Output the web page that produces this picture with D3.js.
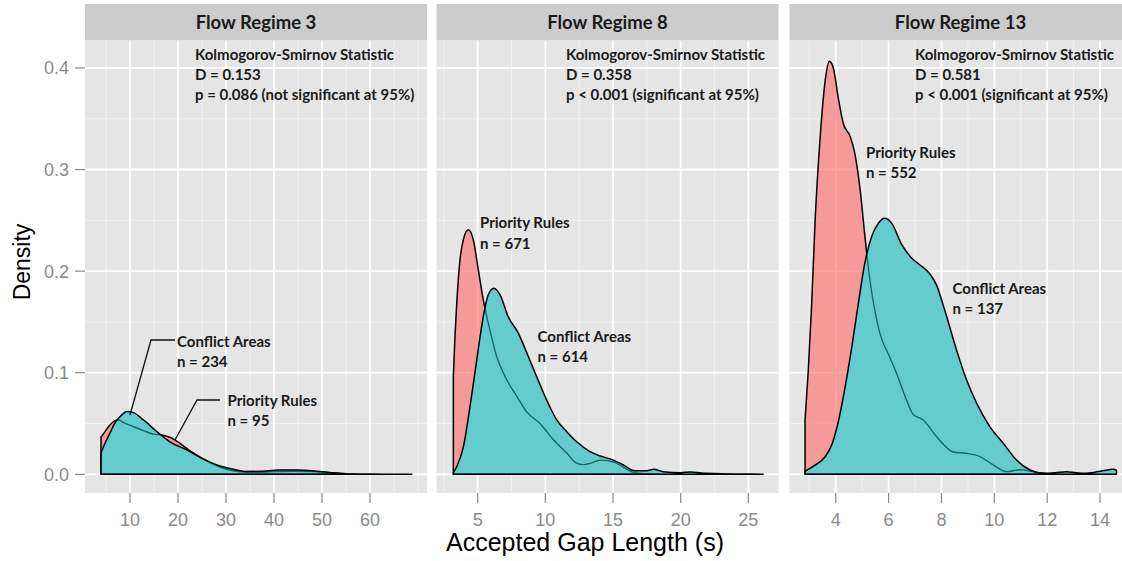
<!DOCTYPE html>
<html><head><meta charset="utf-8">
<script src="https://cdn.jsdelivr.net/npm/d3@7"></script>
<style>body{margin:0;background:#fff} svg{display:block}</style>
</head><body><svg id="c" width="1122" height="561"></svg>
<script>
// ---------- data ----------
const panelTitles = ["Flow Regime 3", "Flow Regime 8", "Flow Regime 13"];
const xTickValues = [[10,20,30,40,50,60],[5,10,15,20,25],[4,6,8,10,12,14]];
const xMinorValues = [[5,15,25,35,45,55,65,70],[2.5,7.5,12.5,17.5,22.5],[3,5,7,9,11,13,15]];
const xDomains = [[0.625,71.875],[1.955,27.23],[2.252,15.19]];
const yTickValues = [0, 0.1, 0.2, 0.3, 0.4];
const yMinorValues = [0.05, 0.15, 0.25, 0.35];
const yDomain = [-0.0184, 0.427];
const ksD = ["D = 0.153", "D = 0.358", "D = 0.581"];
const ksP = ["p = 0.086 (not significant at 95%)", "p < 0.001 (significant at 95%)", "p < 0.001 (significant at 95%)"];
const nPriority = [95, 671, 552];
const nConflict = [234, 614, 137];

// [gap (s), density]
const fr3Priority = [[3.96,0.0365],[4.79,0.042],[5.8,0.0486],[6.9,0.0528],[7.6,0.0535],[8.6,0.0512],[10.7,0.047],[12.8,0.043],[14.9,0.0395],[16.6,0.0388],[18.3,0.0365],[20.4,0.0305],[22.5,0.023],[24.6,0.017],[26.5,0.012],[28.5,0.0075],[30.5,0.0045],[33,0.0025],[36,0.002],[40,0.0026],[44,0.003],[48,0.0026],[52,0.0013],[55,0.0004],[57,0.0]];
const fr3Conflict = [[3.96,0.021],[4.79,0.0305],[5.8,0.0404],[6.9,0.0508],[8.2,0.058],[9.3,0.0617],[10.7,0.0607],[12.8,0.0535],[15.6,0.042],[18.3,0.032],[21.8,0.024],[24.6,0.0167],[28.1,0.0092],[31.5,0.005],[34,0.0028],[37,0.003],[41,0.0042],[45,0.0043],[48,0.0036],[52,0.0016],[55,0.0006],[60,0.0002],[65,0.0001],[68.7,0.0]];
const fr8Priority = [[3.2,0.096],[3.32,0.1356],[3.45,0.168],[3.69,0.211],[3.94,0.231],[4.3,0.2407],[4.67,0.231],[5.05,0.201],[5.41,0.172],[5.9,0.142],[6.4,0.116],[7.15,0.093],[7.9,0.0765],[8.6,0.0617],[9.6,0.05],[10.6,0.034],[11.6,0.0207],[12.3,0.011],[12.8,0.0095],[13.3,0.0108],[14.05,0.014],[15.03,0.0124],[15.77,0.0069],[16.6,0.0016],[17.5,0.0005],[18.5,0.0]];
const fr8Conflict = [[3.2,0.0015],[3.45,0.0075],[3.94,0.027],[4.43,0.0666],[4.93,0.1126],[5.41,0.155],[5.78,0.1767],[6.2,0.1832],[6.65,0.1767],[7.26,0.155],[8.0,0.139],[8.74,0.116],[9.36,0.096],[10.1,0.073],[10.84,0.0535],[11.58,0.042],[12.32,0.032],[13.3,0.0223],[14.05,0.018],[15.03,0.014],[15.77,0.0092],[16.6,0.0035],[17.5,0.0035],[18.0,0.005],[18.7,0.0026],[20,0.0016],[20.7,0.0023],[21.9,0.001],[23,0.0005],[24.5,0.0003],[26.1,0.0]];
const fr13Priority = [[2.84,0.0535],[2.96,0.101],[3.09,0.167],[3.22,0.249],[3.41,0.331],[3.6,0.387],[3.76,0.4065],[3.91,0.4],[4.1,0.37],[4.29,0.345],[4.54,0.333],[4.73,0.315],[4.92,0.281],[5.11,0.233],[5.3,0.19],[5.49,0.16],[5.67,0.139],[6.05,0.115],[6.3,0.0995],[6.68,0.073],[6.93,0.059],[7.31,0.0535],[7.82,0.037],[8.45,0.022],[8.95,0.0207],[9.46,0.0175],[9.96,0.0092],[10.47,0.0026],[10.97,0.0045],[11.47,0.0025],[12,0.0005],[12.5,0.0]];
const fr13Conflict = [[2.84,0.003],[3.22,0.009],[3.6,0.0173],[3.85,0.029],[4.1,0.052],[4.35,0.085],[4.6,0.124],[4.85,0.167],[5.11,0.209],[5.36,0.234],[5.61,0.247],[5.86,0.252],[6.12,0.247],[6.5,0.226],[6.87,0.213],[7.19,0.206],[7.57,0.197],[7.82,0.186],[8.05,0.168],[8.2,0.155],[8.57,0.1225],[8.95,0.093],[9.33,0.07],[9.83,0.047],[10.34,0.0305],[10.84,0.014],[11.35,0.0042],[11.85,0.001],[12.3,0.0015],[12.73,0.0026],[13.1,0.0015],[13.49,0.001],[14.1,0.0035],[14.5,0.005],[14.62,0.004]];

const prioritySeries = [fr3Priority, fr8Priority, fr13Priority];
const conflictSeries = [fr3Conflict, fr8Conflict, fr13Conflict];

// ---------- layout ----------
const svg = d3.select("#c");
const panelLefts = [85, 436.5, 789.5];
const panelW = 342;
const stripTop = 4, panelTop = 40.5, panelBottom = 493;
const bg = "#E5E5E5";
const annoFont = "Lato, 'Open Sans', sans-serif";
const axisFont = "'Liberation Sans', Arial, sans-serif";
const annoSize = 15;

const y = d3.scaleLinear().domain(yDomain).range([panelBottom, panelTop]);

const defs = svg.append("defs");
panelTitles.forEach((t, i) => {
  defs.append("clipPath").attr("id", "clip" + i)
    .append("rect").attr("x", panelLefts[i]).attr("y", panelTop)
    .attr("width", panelW).attr("height", panelBottom - panelTop);
});

panelTitles.forEach((title, i) => {
  const x0 = panelLefts[i];
  const x = d3.scaleLinear().domain(xDomains[i]).range([x0, x0 + panelW]);
  const g = svg.append("g");

  // strip
  g.append("rect").attr("x", x0).attr("y", stripTop).attr("width", panelW)
    .attr("height", panelTop - stripTop).attr("fill", "#CCCCCC");
  g.append("text").attr("x", x0 + panelW / 2).attr("y", (stripTop + panelTop) / 2)
    .attr("dy", "0.36em").attr("text-anchor", "middle")
    .attr("font-family", annoFont).attr("font-weight", "bold").attr("font-size", 18.5)
    .attr("fill", "#1a1a1a").text(title);

  // panel bg
  g.append("rect").attr("x", x0).attr("y", panelTop).attr("width", panelW)
    .attr("height", panelBottom - panelTop).attr("fill", bg);

  const pg = g.append("g").attr("clip-path", `url(#clip${i})`);
  // minor grid
  pg.selectAll(".vminor").data(xMinorValues[i]).join("line")
    .attr("x1", d => x(d)).attr("x2", d => x(d)).attr("y1", panelTop).attr("y2", panelBottom)
    .attr("stroke", "#F2F2F2").attr("stroke-width", 0.9);
  pg.selectAll(".hminor").data(yMinorValues).join("line")
    .attr("x1", x0).attr("x2", x0 + panelW).attr("y1", d => y(d)).attr("y2", d => y(d))
    .attr("stroke", "#F2F2F2").attr("stroke-width", 0.9);
  // major grid
  pg.selectAll(".vmajor").data(xTickValues[i]).join("line")
    .attr("x1", d => x(d)).attr("x2", d => x(d)).attr("y1", panelTop).attr("y2", panelBottom)
    .attr("stroke", "#FFFFFF").attr("stroke-width", 1.8);
  pg.selectAll(".hmajor").data(yTickValues).join("line")
    .attr("x1", x0).attr("x2", x0 + panelW).attr("y1", d => y(d)).attr("y2", d => y(d))
    .attr("stroke", "#FFFFFF").attr("stroke-width", 1.8);

  // densities
  const area = d3.area().x(d => x(d[0])).y0(y(0)).y1(d => y(d[1])).curve(d3.curveMonotoneX);
  const pPath = area(prioritySeries[i]) + "Z";
  const cPath = area(conflictSeries[i]) + "Z";
  defs.append("clipPath").attr("id", "cclip" + i).append("path").attr("d", cPath);
  pg.append("path").attr("d", pPath)
    .attr("fill", "#FF6E6E").attr("fill-opacity", 0.64)
    .attr("stroke", "#000").attr("stroke-width", 1.5).attr("stroke-linejoin", "round");
  pg.append("path").attr("d", cPath)
    .attr("fill", "#64CCCC");
  // priority outline seen through the translucent conflict fill
  pg.append("path").attr("d", pPath).attr("fill", "none")
    .attr("clip-path", `url(#cclip${i})`)
    .attr("stroke", "#17676A").attr("stroke-width", 1.4)
    .attr("stroke-linejoin", "round");
  pg.append("path").attr("d", cPath).attr("fill", "none")
    .attr("stroke", "#000").attr("stroke-width", 1.5).attr("stroke-linejoin", "round");

  // x axis
  const xa = g.append("g");
  xa.selectAll("line").data(xTickValues[i]).join("line")
    .attr("x1", d => x(d)).attr("x2", d => x(d)).attr("y1", panelBottom).attr("y2", panelBottom + 10)
    .attr("stroke", "#8a8a8a").attr("stroke-width", 1.2);
  xa.selectAll("text").data(xTickValues[i]).join("text")
    .attr("x", d => x(d)).attr("y", 526).attr("text-anchor", "middle")
    .attr("font-family", axisFont).attr("font-size", 18).attr("fill", "#8a8a8a")
    .text(d => d3.format("d")(d));

  // KS annotation
  const ksX = [195, 566, 915][i];
  [["Kolmogorov-Smirnov Statistic", 55], [ksD[i], 75], [ksP[i], 95]].forEach(([s, yy]) => {
    g.append("text").attr("x", ksX).attr("y", yy).attr("dy", "0.36em")
      .attr("font-family", annoFont).attr("font-weight", "bold").attr("font-size", annoSize)
      .attr("fill", "#1a1a1a").text(s);
  });
});

// group labels
const labelSpecs = [
  {x: 177, y: 341.5, a: "Conflict Areas", b: "n = " + nConflict[0]},
  {x: 227.5, y: 400.5, a: "Priority Rules", b: "n = " + nPriority[0]},
  {x: 480, y: 223, a: "Priority Rules", b: "n = " + nPriority[1]},
  {x: 537.5, y: 336.5, a: "Conflict Areas", b: "n = " + nConflict[1]},
  {x: 866, y: 152.5, a: "Priority Rules", b: "n = " + nPriority[2]},
  {x: 952.5, y: 288.5, a: "Conflict Areas", b: "n = " + nConflict[2]}
];
labelSpecs.forEach(s => {
  [[s.a, s.y], [s.b, s.y + 20.5]].forEach(([t, yy]) => {
    svg.append("text").attr("x", s.x).attr("y", yy).attr("dy", "0.36em")
      .attr("font-family", annoFont).attr("font-weight", "bold").attr("font-size", annoSize)
      .attr("fill", "#1a1a1a").text(t);
  });
});
// leader lines (panel 1)
svg.append("path").attr("d", "M130,415 L151,340 L175,340").attr("fill", "none")
  .attr("stroke", "#111").attr("stroke-width", 1.3);
svg.append("path").attr("d", "M175,440 L197,400 L220,400").attr("fill", "none")
  .attr("stroke", "#111").attr("stroke-width", 1.3);

// y axis
const ya = svg.append("g");
ya.selectAll("line").data(yTickValues).join("line")
  .attr("x1", 75).attr("x2", 85).attr("y1", d => y(d)).attr("y2", d => y(d))
  .attr("stroke", "#8a8a8a").attr("stroke-width", 1.2);
ya.selectAll("text").data(yTickValues).join("text")
  .attr("x", 69).attr("y", d => y(d)).attr("dy", "0.36em").attr("text-anchor", "end")
  .attr("font-family", axisFont).attr("font-size", 18).attr("fill", "#8a8a8a")
  .text(d => d3.format(".1f")(d));

// axis titles
svg.append("text").attr("transform", "translate(30,262) rotate(-90)")
  .attr("text-anchor", "middle").attr("font-family", axisFont).attr("font-size", 23)
  .attr("fill", "#000").text("Density");
svg.append("text").attr("x", 585).attr("y", 551).attr("text-anchor", "middle")
  .attr("font-family", axisFont).attr("font-size", 25).attr("fill", "#000")
  .text("Accepted Gap Length (s)");
</script></body></html>
